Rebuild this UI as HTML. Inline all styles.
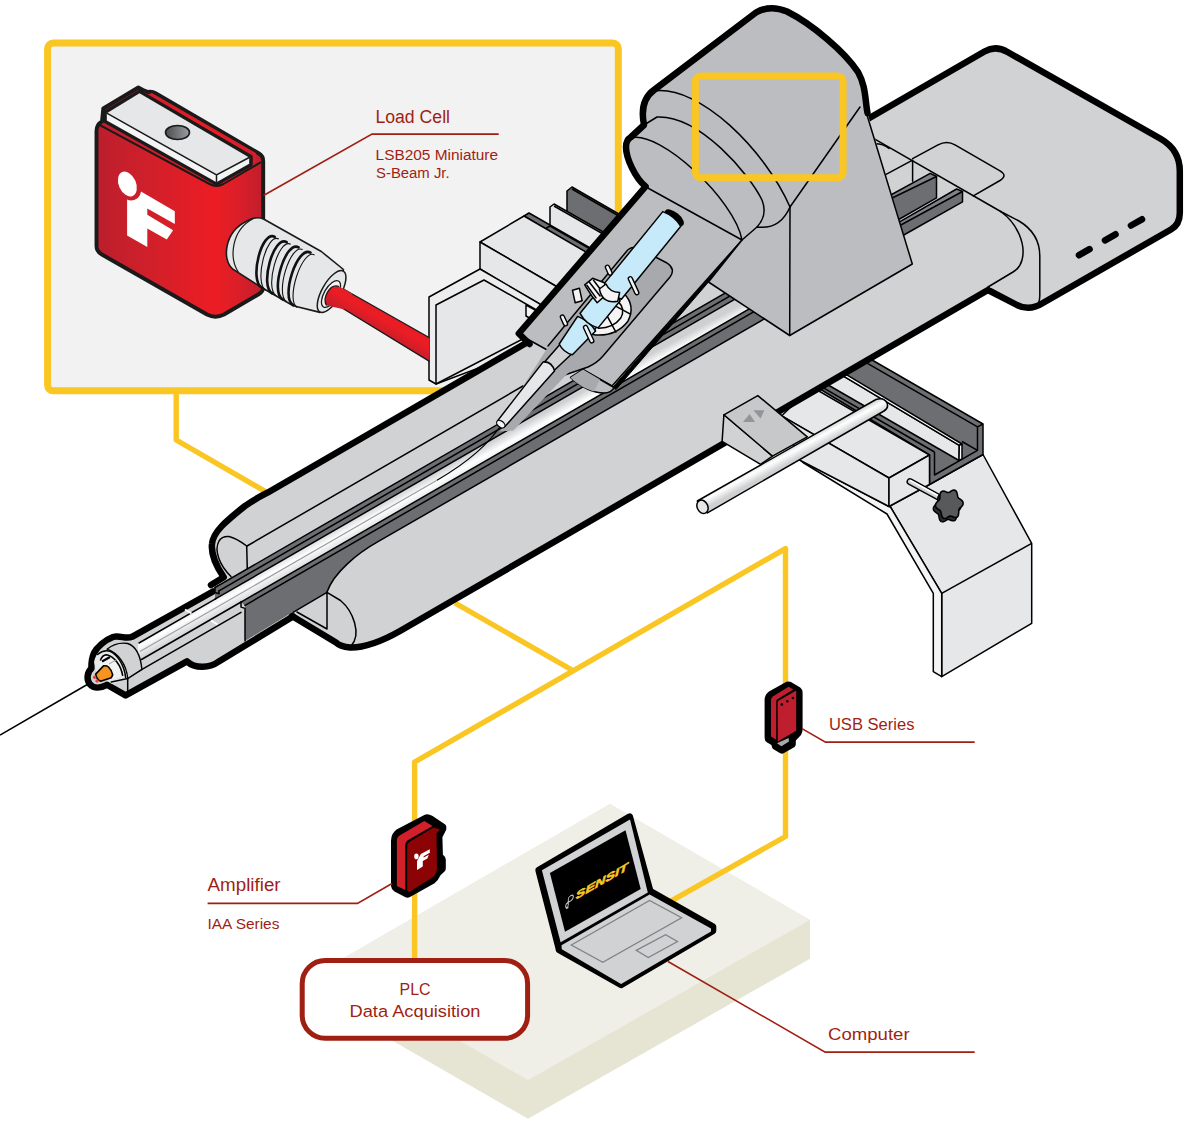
<!DOCTYPE html>
<html>
<head>
<meta charset="utf-8">
<title>Syringe pump load cell application</title>
<style>
html,body{margin:0;padding:0;background:#fff;}
body{width:1200px;height:1124px;overflow:hidden;font-family:"Liberation Sans",sans-serif;}
svg{display:block;}
.t{font-family:"Liberation Sans",sans-serif;fill:#a01f13;}
.k{stroke:#000;stroke-width:6.5;stroke-linejoin:round;stroke-linecap:round;fill:none;}
.n{stroke:#000;stroke-width:1.5;stroke-linejoin:round;stroke-linecap:round;fill:none;}
.y{stroke:#fac623;stroke-width:5.4;fill:none;stroke-linejoin:round;}
.r{stroke:#a01f13;stroke-width:1.6;fill:none;}
</style>
</head>
<body>
<svg width="1200" height="1124" viewBox="0 0 1200 1124">
<defs>
<linearGradient id="gred" x1="0" y1="0" x2="1" y2="0">
<stop offset="0" stop-color="#be1e2d"/><stop offset="0.75" stop-color="#ec1c24"/><stop offset="1" stop-color="#c4202c"/>
</linearGradient>
</defs>

<g id="table">
<polygon points="330,966 610,804 810,920 810,958.7 528,1118.8 330,1004.7" fill="#e6e5d4"/>
<polygon points="330,966 610,804 810,920 528,1080" fill="#f0efe7"/>
</g>
<g id="callout">
<rect x="47.6" y="43" width="570.7" height="347.8" rx="5.5" fill="#f2f2f2" stroke="#fac623" stroke-width="7"/>
</g>
<g id="ylines">
<polyline class="y" points="176.2,390 176.2,440 268,493"/>
<polyline class="y" points="455,603 572,670"/>
<polyline class="y" points="414.6,962 414.6,762 785.5,548.6 785.5,836.5 670,901.6"/>
</g>
<g id="clamp" stroke="#000" stroke-width="1.5" stroke-linejoin="round">
<!-- dark back plate -->
<polygon points="567,191 572,187 650,232 650,262 567,214" fill="#6d6e71"/>
<path d="M 572,189 L 650,234" fill="none"/>
<!-- thin white plate -->
<polygon points="550,207 554,204 640,253 640,276 550,226" fill="#e6e7e8"/>
<path d="M 554,206 L 640,255" fill="none"/>
<!-- dark strip -->
<polygon points="524,216 529,213 620,265 610,268" fill="#6d6e71"/>
<polygon points="545,229 550,226 620,266 615,270" fill="#6d6e71"/>
<!-- big block -->
<polygon points="480,242 524,216 610,266 566,292" fill="#e6e7e8"/>
<polygon points="480,242 566,292 566,320 480,269" fill="#e6e7e8"/>
<!-- L plate -->
<polygon points="429,297 480,269 540,304 540,345 436,384 429,380" fill="#ededee"/>
<polygon points="436,305 484,280 540,312 540,330 436,384" fill="#e6e7e8"/>
<polygon points="526,305 537,311 537,322 526,316" fill="#f4f4f5"/>
</g>
<g id="stage" stroke="#000" stroke-width="1.5" stroke-linejoin="round">
<!-- bracket -->
<polygon points="889,506.5 929.5,484.5 983,454.5 1031.7,543.3 1031.7,623.3 941.7,676.7 941.7,593.3 890.5,507" fill="#e6e7e8"/>
<polygon points="800,460.2 889,506.5 890.5,507 941.7,593.3 941.7,676.7 933.3,671.7 933.3,593.3 887,514 803,462.5" fill="#f4f4f5"/>
<path d="M 941.7,593.3 L 1031.7,543.3" fill="none"/>
<!-- channel dark -->
<polygon points="983,424 866,356.5 810,383 929.5,455 929.5,484.5 983,454.5" fill="#6d6e71"/>
<path d="M 977.5,426.8 L 864,361.3 M 977.5,426.8 L 977.5,450.3 L 934.5,475 L 934.5,452 M 983,424 L 977.5,426.8 M 977.5,450.3 L 962,441.5" fill="none"/>
<path d="M 934.5,452 L 816,383.6" fill="none"/>
<!-- plate in channel -->
<polygon points="828,366.8 959.3,445.4 959,460.5 810,374.5" fill="#e6e7e8"/>
<polygon points="828,366.8 831,365.3 962,444 959.3,445.4" fill="#fff"/>
<polygon points="959.3,445.4 962,444 962,458.8 959,460.5" fill="#fff"/>
<!-- stage block -->
<polygon points="781.7,415.8 889,478 929.5,455 812,387" fill="#e6e7e8"/>
<polygon points="781.7,415.8 889,478 889,506.5 800,460.2" fill="#e6e7e8"/>
<polygon points="889,478 929.5,455 929.5,484.5 889,506.5" fill="#e6e7e8"/>
<!-- knob -->
<path d="M 910,481.6 L 942,499" stroke="#000" stroke-width="7" stroke-linecap="round" fill="none"/>
<path d="M 910,481.6 L 942,499" stroke="#d1d2d4" stroke-width="4.2" stroke-linecap="round" fill="none"/>
<path d="M 910.6,480.6 L 942,497.8" stroke="#fff" stroke-width="1.6" stroke-linecap="round" fill="none"/>
<path d="M 960.8,507.7 L 960.2,509.0 L 959.3,510.1 L 958.2,511.0 L 957.4,511.8 L 956.8,512.7 L 956.5,513.7 L 956.5,515.0 L 956.5,516.4 L 956.3,517.9 L 955.9,519.3 L 955.1,520.3 L 954.0,520.8 L 952.6,520.9 L 951.3,520.5 L 950.1,520.0 L 949.0,519.6 L 948.0,519.5 L 947.1,519.7 L 946.1,520.3 L 945.0,521.1 L 943.7,521.7 L 942.4,521.9 L 941.2,521.6 L 940.2,520.8 L 939.6,519.6 L 939.2,518.2 L 938.9,516.7 L 938.7,515.5 L 938.3,514.5 L 937.7,513.7 L 936.7,513.1 L 935.6,512.3 L 934.5,511.4 L 933.6,510.3 L 933.3,509.0 L 933.4,507.7 L 934.0,506.4 L 934.9,505.3 L 936.0,504.4 L 936.8,503.6 L 937.4,502.7 L 937.7,501.7 L 937.7,500.4 L 937.7,499.0 L 937.9,497.5 L 938.3,496.1 L 939.1,495.1 L 940.2,494.6 L 941.6,494.5 L 942.9,494.9 L 944.1,495.4 L 945.2,495.8 L 946.2,495.9 L 947.1,495.7 L 948.1,495.1 L 949.2,494.3 L 950.5,493.7 L 951.8,493.5 L 953.0,493.8 L 954.0,494.6 L 954.6,495.8 L 955.0,497.2 L 955.3,498.7 L 955.5,499.9 L 955.9,500.9 L 956.5,501.7 L 957.5,502.3 L 958.6,503.1 L 959.7,504.0 L 960.6,505.1 L 960.9,506.4 Z" fill="#2b2b2d" stroke="#000" stroke-width="1.4" stroke-linejoin="round"/>
<path d="M 963.0,504.3 L 962.4,505.6 L 961.5,506.7 L 960.4,507.6 L 959.6,508.4 L 959.0,509.3 L 958.7,510.3 L 958.7,511.6 L 958.7,513.0 L 958.5,514.5 L 958.1,515.9 L 957.3,516.9 L 956.2,517.4 L 954.8,517.5 L 953.5,517.1 L 952.3,516.6 L 951.2,516.2 L 950.2,516.1 L 949.3,516.3 L 948.3,516.9 L 947.2,517.7 L 945.9,518.3 L 944.6,518.5 L 943.4,518.2 L 942.4,517.4 L 941.8,516.2 L 941.4,514.8 L 941.1,513.3 L 940.9,512.1 L 940.5,511.1 L 939.9,510.3 L 938.9,509.7 L 937.8,508.9 L 936.7,508.0 L 935.8,506.9 L 935.5,505.6 L 935.6,504.3 L 936.2,503.0 L 937.1,501.9 L 938.2,501.0 L 939.0,500.2 L 939.6,499.3 L 939.9,498.3 L 939.9,497.0 L 939.9,495.6 L 940.1,494.1 L 940.5,492.7 L 941.3,491.7 L 942.4,491.2 L 943.8,491.1 L 945.1,491.5 L 946.3,492.0 L 947.4,492.4 L 948.4,492.5 L 949.3,492.3 L 950.3,491.7 L 951.4,490.9 L 952.7,490.3 L 954.0,490.1 L 955.2,490.4 L 956.2,491.2 L 956.8,492.4 L 957.2,493.8 L 957.5,495.3 L 957.7,496.5 L 958.1,497.5 L 958.7,498.3 L 959.7,498.9 L 960.8,499.7 L 961.9,500.6 L 962.8,501.7 L 963.1,503.0 Z" fill="#58595b" stroke="#000" stroke-width="1.6" stroke-linejoin="round"/>
</g>
<g id="rightbox">
<path d="M 866,120 L 984.5,51.5 Q 995.5,45 1007.5,52 L 1161,139 Q 1179.8,150 1179.8,171 L 1179.8,213 Q 1179.8,224.5 1171,229.5 L 1042,303.5 Q 1029,311.5 1016,304.5 L 988,290 L 900,250 Z" fill="#d1d2d4"/>
<path class="k" d="M 866,120 L 984.5,51.5 Q 995.5,45 1007.5,52 L 1161,139 Q 1179.8,150 1179.8,171 L 1179.8,213 Q 1179.8,224.5 1171,229.5 L 1042,303.5 Q 1029,311.5 1016,304.5 L 988,290"/>
<!-- slots -->
<g stroke="#000" stroke-width="6.6" stroke-linecap="round"><path d="M 1079,255.2 L 1089.5,249.2"/><path d="M 1105,240.3 L 1115.5,234.3"/><path d="M 1131,225.5 L 1142,219.3"/></g>
</g>
<g id="body">
<!-- silhouette -->
<path d="M 212,546 C 213,532 226,521 244.8,506.1 Q 255,499 267.5,492.7 L 527,342.5 L 870,130 L 1020,215 L 1022,262 L 988,290 L 560,538.5 L 400,631 Q 370,648 350,647.5 Q 340,646.5 336,642.5 L 292,616 L 245,642 L 223.7,577.2 Q 212,560 212,546 Z" fill="#d1d2d4"/>
<path class="k" d="M 211,585 L 223.7,577.2 C 216,566 211,553 212,544 C 213,532 226,521 244.8,506.1 Q 255,499 267.5,492.7 L 527,342.5"/>
<path class="k" d="M 988,290 L 560,538.5 L 400,631 Q 370,648 350,647.5 Q 340,646.5 336,642.5 L 292,616"/>
</g>
<g id="nose">
<path d="M 246,572 L 213,591.5 L 132,636.8 C 126,639.5 120,635 113,637 C 105,640 97,647 94,653 C 91,660 91.5,665 91.4,668.4 C 87,672 86.3,680 90,684.3 C 94,688.8 101,688 107,684.8 L 125.6,695.4 L 187,661.3 C 195,669 210,668 218,662 L 246,645 L 246,600 Z" fill="#d1d2d4"/>
<path class="k" d="M 213,591.5 L 132,636.8 C 126,639.5 120,635 113,637 C 105,640 97,647 94,653 C 91,660 91.5,665 91.4,668.4 C 87,672 86.3,680 90,684.3 C 94,688.8 101,688 107,684.8 L 125.6,695.4 L 187,661.3 C 195,669 210,668 218,662 L 246,645 L 293,616.5"/>
</g>
<g id="rails">
<defs><linearGradient id="grod" gradientUnits="userSpaceOnUse" x1="420" y1="480.9" x2="430" y2="499.1">
<stop offset="0" stop-color="#cfd0d2"/><stop offset="0.45" stop-color="#ffffff"/><stop offset="1" stop-color="#d4d5d7"/></linearGradient></defs>
<path class="n" d="M 231,576.5 C 219,565 214,550 219,541 Q 222,536 229,536.5 Q 236,538 246.7,546 L 247.3,570"/>
<path class="n" d="M 247,546 L 523,386"/>
<polygon points="215,587.5 770,267.2 770,278.9 215,599.2" fill="#6d6e71"/>
<polygon points="138,643.6 770,278.9 770,296.9 138,661.5" fill="url(#grod)"/>
<path d="M 241,602.1 L 770,296.9 L 770,315.6 L 378,541.7 C 358,553 334,572 327,592 L 292,612.6 L 245,641 L 245,605.8 Z" fill="#6d6e71"/>
<g class="n">
<path d="M 215,587.5 770,267.2"/><path d="M 219,590.8 770,272.9"/><path d="M 215,599.2 770,278.9"/>
<path d="M 241,602.1 770,296.9"/><path d="M 245,605.4 770,302.4"/>
<path d="M 770,315.6 L 378,541.7 C 358,553 334,572 327,592"/>
<path d="M 215,587.5 L 215,592.5 L 219,593.8 L 219,590.8"/>
<path d="M 241,602.1 L 241,607.1 L 245,608.4 L 245,641"/>
</g>
<path class="n" d="M 327,592 L 327,629 M 297,612 L 327,629 M 293,612.3 L 327,592.3 L 340.5,600.5 C 353,611 362,634 351,646"/>
</g>
<g id="nosetip">
<g class="n">
<path d="M 127.7,677.7 L 241,612.3"/>
<path d="M 127.7,679 L 127.7,693.5"/>
<path d="M 139,643.0 L 216,598.6 M 141.5,659.5 L 242,601.5"/>
</g>
<path d="M 140,651.6 L 437,480.2" stroke="#9d9fa2" stroke-width="1.2" fill="none"/><path d="M 437,480.2 C 465,464 488,446 502.5,423" stroke="#000" stroke-width="1.2" fill="none"/>
<path d="M 185,609.5 L 191.5,613.5 M 211,620.5 L 217.5,624.5" stroke="#fff" stroke-width="2" fill="none"/>
<!-- ring front face -->
<path d="M 94,662 C 96,652 103,648.5 107,649.2 C 118,653 126.5,664 127.7,678.6 L 112,684 L 96,672 Z" fill="#e6e7e8"/>
<!-- collar outer band -->
<path d="M 107,649.2 C 113,644.5 121,642.3 127.7,643.5 C 135,646 140.5,655 141.9,669.3 L 127.7,678.6 C 126.5,664 118,653 107,649.2 Z" fill="#d1d2d4" stroke="#000" stroke-width="1.4" stroke-linejoin="round"/>
<!-- inner arcs -->
<path class="n" stroke-width="1.2" d="M 97.5,654.5 C 102,650.5 107,650.3 110,651.3 C 118,655 124.5,666 125.6,677.5"/>
<path d="M 100,661 C 102,656 105,654.5 107.5,655 C 114,656.5 121,665.5 122.7,675.8 L 112,680 L 100,669 Z" fill="#f1f2f2"/>
<path d="M 100.3,660.5 C 102,656 105,654.5 107.5,655 C 114,656.5 121,665.5 122.7,675.8" fill="none" stroke="#000" stroke-width="1.6"/>
<path d="M 102,661.5 L 110,657 " stroke="#000" stroke-width="2.2" fill="none"/>
<path d="M 109,664 L 116.5,659.8" stroke="#9d9fa2" stroke-width="1" fill="none"/>
<path class="n" d="M 127.7,678.6 L 111.3,682"/>
<!-- orange cone -->
<path d="M 95.7,674.1 L 103.5,665.9 Q 106.5,665.3 108.5,667 Q 112,670.5 112.7,674.8 L 111.3,677.7 L 100.6,681.2 Q 96.5,679.5 95.7,674.1 Z" fill="#f7941e" stroke="#000" stroke-width="1.6" stroke-linejoin="round"/>
<circle cx="94.6" cy="677.3" r="1.7" fill="#ef4136"/><circle cx="97" cy="681" r="1.7" fill="#ef4136"/>
<!-- needle -->
<path d="M 89,683.5 L 0,735" stroke="#000" stroke-width="1.5" fill="none"/>
</g>
<g id="rbdetail">
<!-- dark channel regions -->
<polygon points="888,196.5 930.2,173.4 936.5,176.5 936.5,197.8 897,220.5" fill="#6d6e71"/>
<polygon points="897,223.3 956.6,189 962.5,191.5 962.5,201.8 902,236" fill="#6d6e71"/>
<polygon points="888,196.5 930.2,173.4 936.5,176.5 889.5,200" fill="#808285"/><polygon points="897,223.3 956.6,189 962.5,191.5 898.5,226.8" fill="#808285"/>
<g class="n" stroke-width="1.4">
<path d="M 888,196.5 L 930.2,173.4 L 936.5,176.5 L 936.5,197.8 L 897,220.5"/>
<path d="M 889,199.5 L 936.5,176.5"/>
<path d="M 897,223.3 L 956.6,189 L 962.5,191.5 L 962.5,201.8 L 902,236"/>
<path d="M 898,226.5 L 962.5,191.5"/>
<!-- long top line -->
<path d="M 869.6,136.2 L 1000.7,211.5"/>
<path d="M 872.5,144 Q 882,143 889,148.5"/>
<path d="M 884.2,175.3 L 912.6,160.2 L 912.6,181.2"/>
<!-- recess panel -->
<path d="M 912.6,158.7 L 938,144.8 Q 946.9,140 955,144.8 L 1000,170.8 Q 1008,175.5 1000,180.5 L 973.3,195.9"/>
<!-- tube end arcs -->
<path d="M 1000.7,211.5 C 1018,224 1026,245 1022,260 Q 1020,268 1013,272 L 988,287"/>
<path d="M 1000.7,211.5 L 1019,221 C 1034,230 1039.8,242 1039.8,256 L 1039.8,296 Q 1039.8,304 1034,308"/>
</g>
</g>
<g id="ctrl" stroke="#000" stroke-width="1.5" stroke-linejoin="round">
<defs><linearGradient id="grod2" gradientUnits="userSpaceOnUse" x1="790" y1="448" x2="796" y2="459">
<stop offset="0" stop-color="#d9dadb"/><stop offset="0.35" stop-color="#ffffff"/><stop offset="1" stop-color="#cfd0d2"/></linearGradient></defs>
<polygon points="723.9,414.8 772.5,456.1 760.6,464.3 722.1,441.4" fill="#d1d2d4"/>
<polygon points="723.9,414.8 757.8,395.6 807.3,436.8 772.5,456.1" fill="#c7c8ca"/>
<polygon points="743,422 749.6,414 755,422" fill="#939598" stroke="none"/>
<polygon points="753.3,410.3 764.3,410.3 760.6,418.5" fill="#939598" stroke="none"/>
<!-- rod -->
<path d="M 697.3,501 L 876,399.5 Q 884,397 887,403 Q 889,408 884,411 L 707.4,512.9 Z" fill="url(#grod2)"/>
<ellipse cx="702.5" cy="506.8" rx="5.3" ry="7" transform="rotate(-25 702.5 506.8)" fill="#e6e7e8"/>
</g>
<g id="holder">
<!-- plate -->
<path d="M 518.8,333.5 L 645.6,186.5 L 742,240 L 612,386 Z" fill="#bcbdc0"/>
<path d="M 613,387 L 742,240 L 743.6,241.2 L 616,389.5 Z" fill="#000" stroke="#000" stroke-width="1"/>
<path class="n" d="M 522,336 L 612,386 L 742,240"/>

<!-- under bracket -->
<path d="M 570.5,377.5 C 580,386 592,393 604,393 Q 611.5,393 614,387.5 L 583,369.5 Z" fill="#bcbdc0" stroke="#000" stroke-width="1.5" stroke-linejoin="round"/><path d="M 570.5,377.5 C 578,385 586,389 594,391.5 L 600,379.5 L 583,369.5 Z" fill="#a7a9ac"/>
<!-- recess -->
<path d="M 626,252 Q 631,245 640,249 L 667,263 Q 676,269 670,277 L 603,356 Q 597,363 588,367 L 553,379 L 512,428 L 500,423 L 546,350 Z" fill="#a7a9ac"/>
<path class="n" stroke-width="1.3" d="M 548,346 L 626,252 Q 631,245 640,249 L 667,263 Q 676,269 670,277 L 603,356 Q 597,363 588,367 L 553,379"/>
<!-- flange (white half disc) -->
<path d="M 624.0,293.5 Q 635.9,305.8 627.9,321.2 Q 616.3,336.3 595.5,334.9 L 591.2,333.9 Z" fill="#f4f4f5" stroke="#000" stroke-width="1.5" stroke-linejoin="round"/>
<path class="n" d="M 618.5,301.9 Q 625.6,309.0 620.8,318.0 Q 613.0,328.4 598.4,328.2"/>
<path class="n" d="M 607.1,315.9 L 615.9,332.1 M 616.1,306.4 L 630.4,314.2"/>
<!-- needle sheath -->
<path d="M 558.3,366.4 L 571.4,369.4 L 513.3,430.4 L 498.9,431.6 L 505.1,426.3 Z" fill="#a7a9ac"/>
<path d="M 559.9,344.6 L 571.6,354.0 L 552.5,372.0 L 542.8,364.1 Z" fill="#d1d2d4" stroke="#000" stroke-width="1.5" stroke-linejoin="round"/>
<path d="M 543.2,361.9 Q 552.1,361.4 554.5,371.1 L 505.1,426.3 L 497.9,420.4 Z" fill="#e6e7e8" stroke="#000" stroke-width="1.5" stroke-linejoin="round"/>
<ellipse cx="500.8" cy="424.1" rx="4.8" ry="3" transform="rotate(39 500.8 424.1)" fill="#f4f4f5" stroke="#000" stroke-width="1.2"/>
<!-- barrel -->
<ellipse cx="674.3" cy="217.8" rx="11.5" ry="5.5" transform="rotate(39 674.3 217.8)" fill="#000"/>
<path d="M 577.6,316.4 Q 589.1,320.6 595.6,331.0 L 572.4,354.7 Q 563.2,352.4 559.2,344.0 Z" fill="#c7eafb" stroke="#000" stroke-width="1.5" stroke-linejoin="round"/>
<path d="M 602.2,286.1 Q 614.3,289.6 620.2,300.8 L 598.1,327.9 Q 585.9,324.5 580.1,313.3 Z" fill="#c7eafb" stroke="#000" stroke-width="1.5" stroke-linejoin="round"/>
<path d="M 662.8,211.6 Q 674.3,215.8 680.8,226.3 L 621.4,299.2 Q 609.9,295.0 603.4,284.6 Z" fill="#c7eafb" stroke="#000" stroke-width="1.5" stroke-linejoin="round"/>
<!-- clip -->
<path d="M 591.5,295.5 L 584.7,284.8 L 592.6,278.3 L 604.4,282.8 L 607.0,293.9 L 597.2,302.7 Z" fill="#f4f4f5" stroke="#000" stroke-width="1.5" stroke-linejoin="round"/>
<path class="n" d="M 586.9,285.3 L 596.0,297.9 M 589.4,282.2 L 600.1,296.0 M 593.5,280.3 L 604.2,294.2"/>
<path d="M 599.4,289.0 Q 602.4,304.3 617.7,301.3 L 619.6,292.6 Q 609.6,292.2 606.0,284.0 Z" fill="#f4f4f5" stroke="#000" stroke-width="1.5" stroke-linejoin="round"/>
<path d="M 579.4,288.2 L 572.5,290.3 L 575.2,302.8 L 582.1,300.7 Z" fill="#f4f4f5" stroke="#000" stroke-width="1.5" stroke-linejoin="round"/>
<!-- pins -->
<path d="M 607.4,267.2 l 2.7,5.9" stroke="#000" stroke-width="5.4" stroke-linecap="round"/><path d="M 607.4,267.2 l 2.7,5.9" stroke="#f4f4f5" stroke-width="2.6" stroke-linecap="round"/><path d="M 630.3,278.7 l 6.5,14.0" stroke="#000" stroke-width="5.4" stroke-linecap="round"/><path d="M 630.3,278.7 l 6.5,14.0" stroke="#f4f4f5" stroke-width="2.6" stroke-linecap="round"/><path d="M 562.4,317.0 l 3.1,6.8" stroke="#000" stroke-width="5.4" stroke-linecap="round"/><path d="M 562.4,317.0 l 3.1,6.8" stroke="#f4f4f5" stroke-width="2.6" stroke-linecap="round"/><path d="M 585.5,327.4 l 6.3,13.5" stroke="#000" stroke-width="5.4" stroke-linecap="round"/><path d="M 585.5,327.4 l 6.3,13.5" stroke="#f4f4f5" stroke-width="2.6" stroke-linecap="round"/>
</g>
<g id="head">
<path d="M 646,187 C 635,178 626,158 626,147 Q 626,140 631,137 L 644,125 C 641,110 643,98 654,90 L 756,12.5 Q 770,4.5 787,11.5 C 812,24 845,52 858,72 C 866,86 865,100 867.5,113 L 912.3,264 L 789.7,335.5 L 708.5,282 L 742,240 Z" fill="#bcbdc0"/>
<path class="n" d="M 867,115 L 912.3,264 L 789.7,335.5 L 708.5,282 L 742,240"/>
<path class="n" d="M 789.7,335.5 L 790,207 L 860,107"/>
<path class="n" d="M 654,91 C 700,85 765,150 790,207"/>
<path class="n" d="M 644,125 L 657,117 C 700,115 750,175 762,200 Q 768,215 757,227"/>
<path class="n" d="M 631,138 C 660,130 735,200 742,240 L 757,227 Q 780,230 790,207"/>
<path class="n" d="M 646,187 L 742,240"/>
<path class="k" d="M 529.5,344 L 518.8,333.5 L 645.6,186.5 C 635,178 626,158 626,147 Q 626,140 631,137 L 644,125 C 641,110 643,98 654,90 L 756,12.5 Q 770,4.5 787,11.5 C 812,24 845,52 858,72 C 866,86 865,100 867.5,113"/>
<rect x="695.4" y="76" width="147.7" height="101.8" rx="5.3" fill="none" stroke="#fac623" stroke-width="7"/>
</g>
<g id="loadcell">
<defs>
<linearGradient id="glc" gradientUnits="userSpaceOnUse" x1="96" y1="0" x2="264" y2="0">
<stop offset="0" stop-color="#bb1e2d"/><stop offset="0.3" stop-color="#cf202b"/><stop offset="0.71" stop-color="#ed1c24"/><stop offset="0.86" stop-color="#d81f29"/><stop offset="1" stop-color="#bf1e2d"/></linearGradient>
<linearGradient id="gcab" gradientUnits="userSpaceOnUse" x1="385" y1="312" x2="373" y2="333"><stop offset="0" stop-color="#e21e26"/><stop offset="0.3" stop-color="#ed1c24"/><stop offset="1" stop-color="#be1e2d"/></linearGradient>
<linearGradient id="ghole" x1="0" y1="0" x2="1" y2="0"><stop offset="0" stop-color="#4d4d4f"/><stop offset="1" stop-color="#9a9c9f"/></linearGradient>
</defs>
<!-- cable -->
<path d="M 339,286.5 L 429.5,337.8 L 429.5,361.4 L 326.5,298.5 Z" fill="url(#gcab)"/><path d="M 339,286.5 L 429.5,337.8 M 429.5,361.4 L 329,300" fill="none" stroke="#1a1a1a" stroke-width="1.3"/>
<!-- body -->
<path d="M 96.5,131 Q 96.5,124.5 102,121.5 L 103.3,108.5 L 138.3,87.5 L 143,90 L 148,92 Q 152,91 156,93.5 L 259,153.5 Q 263.2,156 263.2,161 L 263.2,287 Q 263.2,291.5 259,294 L 224,314.5 Q 215.5,319 207,314.5 L 101,254 Q 96.5,251 96.5,246 Z" fill="url(#glc)" stroke="#1a1a1a" stroke-width="3.9" stroke-linejoin="round"/>
<!-- body top rim line -->
<path d="M 98.5,124.3 L 209.5,184 Q 216.5,187.8 223.5,184 L 261,162.2" fill="none" stroke="#1a1a1a" stroke-width="2"/>
<!-- silver plate -->
<path d="M 104.8,121.5 L 104.8,112 L 139.5,91.3 L 251.2,156.5 L 251.2,165 L 216.5,184.3 Z" fill="#1a1a1a" stroke="#1a1a1a" stroke-width="3" stroke-linejoin="round"/>
<path d="M 151,93.5 L 255,153.5 L 255,163" fill="none" stroke="#d91f2a" stroke-width="1.6"/>
<polygon points="106.8,113.2 139.5,93.3 249.2,157.5 216.5,175" fill="#e6e7e8"/>
<polygon points="106.8,113.2 216.5,175 216.5,182.3 106.8,120.5" fill="#f4f4f5"/>
<polygon points="216.5,175 249.2,157.5 249.2,163.8 216.5,182.3" fill="#f4f4f5"/>
<path d="M 106.8,113.2 L 216.5,175 L 249.2,157.5 M 216.5,175 L 216.5,182.3" fill="none" stroke="#1a1a1a" stroke-width="1.5"/>
<ellipse cx="177.5" cy="132.5" rx="12" ry="7" fill="url(#ghole)" stroke="#1a1a1a" stroke-width="1.6"/>
<!-- logo -->
<ellipse cx="127.4" cy="184" rx="8.6" ry="13" transform="rotate(-24 127.4 184)" fill="#fff"/>
<path d="M 127.1,199.6 C 131,201.8 139.5,200.5 141,191.6 L 174.8,211.2 L 174.8,224.1 L 147.3,208.5 L 147.3,214.7 L 173.1,230.3 L 166.8,239.6 L 147.3,228.5 L 147.3,247 L 127.1,235.6 Z" fill="#fff"/>
<!-- connector -->
<path d="M 246.6,221.2 Q 256,215.5 264,219.2 L 321.3,251.5 L 343.5,269.5 L 320,312.4 L 293.2,305.7 L 262.8,288.3 L 232.5,268.8 C 222,260 224,232 246.6,221.2 Z" fill="#e6e7e8" stroke="#1a1a1a" stroke-width="1.6" stroke-linejoin="round"/>
<path d="M 253.5,218.5 C 231,230 229,258 238.5,272.5" fill="none" stroke="#1a1a1a" stroke-width="1.2"/>
<path d="M 274.8,236.8 C 261.8,229.5 248.8,280.3 261.8,287.7" fill="none" stroke="#111" stroke-width="2.6" stroke-linecap="round"/><path d="M 278.8,239.1 C 266.6,232.2 253.6,283.1 265.8,290.0" fill="none" stroke="#111" stroke-width="1.1"/><path d="M 286.7,242.1 C 273.6,234.7 259.2,286.2 272.3,293.5" fill="none" stroke="#111" stroke-width="2.6" stroke-linecap="round"/><path d="M 290.7,244.3 C 278.5,237.5 264.1,288.9 276.3,295.8" fill="none" stroke="#111" stroke-width="1.1"/><path d="M 298.6,247.3 C 285.6,240.0 269.7,292.0 282.7,299.4" fill="none" stroke="#111" stroke-width="2.6" stroke-linecap="round"/><path d="M 302.6,249.6 C 290.4,242.7 274.6,294.8 286.7,301.6" fill="none" stroke="#111" stroke-width="1.1"/><path d="M 310.5,252.6 C 297.4,245.2 280.1,297.8 293.2,305.2" fill="none" stroke="#111" stroke-width="2.6" stroke-linecap="round"/><path d="M 314.5,254.9 C 302.3,248.0 285.0,300.6 297.2,307.5" fill="none" stroke="#111" stroke-width="1.1"/>
<!-- end ring + cable stub -->
<ellipse cx="331.6" cy="291.5" rx="9.5" ry="23.5" transform="rotate(30 331.6 291.5)" fill="#e6e7e8" stroke="#1a1a1a" stroke-width="1.5"/>
<ellipse cx="331" cy="294" rx="6.8" ry="15" transform="rotate(30 331 294)" fill="#f4f4f5" stroke="#1a1a1a" stroke-width="1.3"/>
<path d="M 339,286.5 C 330,283 322,298 326.5,305.5 L 345,309.6 L 352,293.5 Z" fill="url(#gcab)"/>
<path d="M 339,286.5 C 330,283 322,298 326.5,305.5" fill="none" stroke="#1a1a1a" stroke-width="1.3"/>
</g>
<g id="amp">
<path d="M 391,841 L 391,886 Q 391.5,890 394.5,891.6 L 405.5,897.2 Q 407.7,898.2 410,897 L 434.6,883.2 Q 438.5,880 440.5,875.3 L 444.5,871.5 Q 445.8,870.5 445.8,868.5 L 445.8,859.5 Q 445.8,857 442.9,854.8 L 442.4,837.2 L 446.3,829.4 L 446.3,826.4 Q 446,825 444.5,824 L 432.6,816.1 Q 428.5,813.6 424.8,814.7 L 397,829.2 Q 391,833 391,841 Z" fill="#000"/>
<path d="M 396.9,840.5 Q 396.9,837 400,835.2 L 424.3,821 L 432.6,825.9 L 408.2,840.1 Q 405.2,842 405.2,846 L 405.2,890 L 396.9,886.1 Z" fill="#d2202a"/>
<path d="M 407.2,846.5 Q 407.2,843.3 410,841.6 L 433.6,827.4 L 440,829.4 L 436.5,833.3 L 437,868.5 Q 436.5,874 432.6,877.3 L 409.1,892 L 407.2,890.5 Z" fill="#8b0304"/>
<ellipse cx="416.4" cy="856.4" rx="2.2" ry="2.8" fill="#fff"/>
<path d="M 417,861.2 L 420.8,854 L 429.8,849.2 L 429.8,852.8 L 423.6,856.2 L 423.6,857.4 L 428.8,854.7 L 427.4,858.4 L 422.8,860.9 L 422.8,866.6 L 417,870 Z" fill="#fff"/>
</g>
<g id="usb">
<path d="M 764.6,700.4 L 764.6,738 Q 764.8,741 766.8,742.2 L 771.4,744.9 L 772.2,747.8 Q 772.5,748.6 773.5,749.2 L 780.2,753.3 Q 781.8,754.2 783.6,753.3 L 794.6,746.9 Q 795.6,746 795.8,744.5 L 795.8,740.5 L 801,734.9 Q 802.6,732.5 802.6,729.2 L 802.6,692.6 Q 802.4,689 800.2,687.4 L 791.4,682.2 Q 789,680.8 786.4,681.8 L 769,691.6 Q 764.6,694.5 764.6,700.4 Z" fill="#000"/>
<path d="M 771,700 Q 771,698 772.8,696.5 L 788.6,686.8 L 793.4,689.6 L 777,699.6 Q 776.2,700.4 776.2,702 L 776.2,739.7 L 771,736.5 Z" fill="#be1e2d"/>
<path d="M 777.6,703.2 Q 777.6,701.5 779,700.5 L 796.2,690.6 L 796.2,730.8 L 777.8,741.4 Z" fill="#be1e2d"/>
<circle cx="781.8" cy="704.4" r="1.3" fill="#000"/><circle cx="787.3" cy="701.2" r="1.3" fill="#000"/><circle cx="792.9" cy="698" r="1.3" fill="#000"/>
<polygon points="777,743.3 788.6,738.1 789,741.4 781.4,746.2" fill="#a7a9ac"/>
</g>
<g id="laptop">
<path d="M 538.7,870.1 L 629.7,816.8 L 650.2,891.3 L 712.9,926.6 L 712.9,930.7 L 621.1,984.7 L 559.1,949.9 L 558.5,946.9 Z" fill="#000" stroke="#000" stroke-width="6.8" stroke-linejoin="round"/>
<polygon points="541.9,870.3 630,819.6 647.8,892.5 560.6,942.3" fill="#d1d2d4"/>
<polygon points="549.9,873 625.5,830.2 640.7,889 565,931.7" fill="#000"/>
<polygon points="561.5,945.2 649.6,894.6 711,928.6 711,931.5 621.1,984 561.8,949.2" fill="#d1d2d4"/>
<polygon points="571.3,945 649.6,900.5 681.6,917.8 602.8,962.3" fill="none" stroke="#808285" stroke-width="1.3"/>
<polygon points="636.2,950.4 665.6,934.7 677.5,941.5 648.3,957.5" fill="none" stroke="#808285" stroke-width="1.3"/>
<g transform="matrix(0.866,-0.5,0,1,575.8,899.6)">
<text x="0" y="0" font-family="Liberation Sans, sans-serif" font-weight="bold" font-style="italic" font-size="10.2" fill="#fac623" stroke="#fac623" stroke-width="0.55" textLength="60" lengthAdjust="spacingAndGlyphs">SENSIT</text>
<path d="M -8.5,3.5 q -3.2,0 -3.2,-2.6 q 0,-2.6 3.2,-2.6 l 2.4,0 q 3.2,0 3.2,-2.6 q 0,-2.6 -3.2,-2.6 q -2.6,0 -2.6,2.6 l 0,5.2 q 0,2.6 -2.6,2.6 z" fill="none" stroke="#d1d2d4" stroke-width="1.1"/>
</g>
</g>
<g id="plc">
<rect x="302.2" y="960.5" width="225.4" height="77.8" rx="23" fill="#fff" stroke="#a01f13" stroke-width="5"/>
<text class="t" x="415" y="995" font-size="17.2" text-anchor="middle" textLength="31" lengthAdjust="spacingAndGlyphs">PLC</text>
<text class="t" x="415" y="1016.6" font-size="17.2" text-anchor="middle" textLength="131" lengthAdjust="spacingAndGlyphs">Data Acquisition</text>
</g>
<g id="labels">
<text class="t" x="375.4" y="123" font-size="17.6" textLength="74.6" lengthAdjust="spacingAndGlyphs">Load Cell</text>
<text class="t" x="375.6" y="160.3" font-size="14.9" textLength="122.4" lengthAdjust="spacingAndGlyphs">LSB205 Miniature</text>
<text class="t" x="376" y="177.8" font-size="14.9" textLength="73.6" lengthAdjust="spacingAndGlyphs">S-Beam Jr.</text>
<polyline class="r" points="263.5,195.5 372,134.1 498.7,134.1"/>
<text class="t" x="207.6" y="890.8" font-size="17.5" textLength="73" lengthAdjust="spacingAndGlyphs">Amplifier</text>
<text class="t" x="207.4" y="928.8" font-size="15" textLength="72" lengthAdjust="spacingAndGlyphs">IAA Series</text>
<polyline class="r" points="207.6,903.4 357.5,903.4 392,883.5"/>
<text class="t" x="828.9" y="729.6" font-size="17.4" textLength="85.6" lengthAdjust="spacingAndGlyphs">USB Series</text>
<polyline class="r" points="802,728.6 825.5,742.1 974.7,742.1"/>
<text class="t" x="828" y="1039.8" font-size="17.4" textLength="81.6" lengthAdjust="spacingAndGlyphs">Computer</text>
<polyline class="r" points="668,961.5 825.2,1052.1 974.7,1052.1"/>
</g>
</svg>
</body>
</html>
